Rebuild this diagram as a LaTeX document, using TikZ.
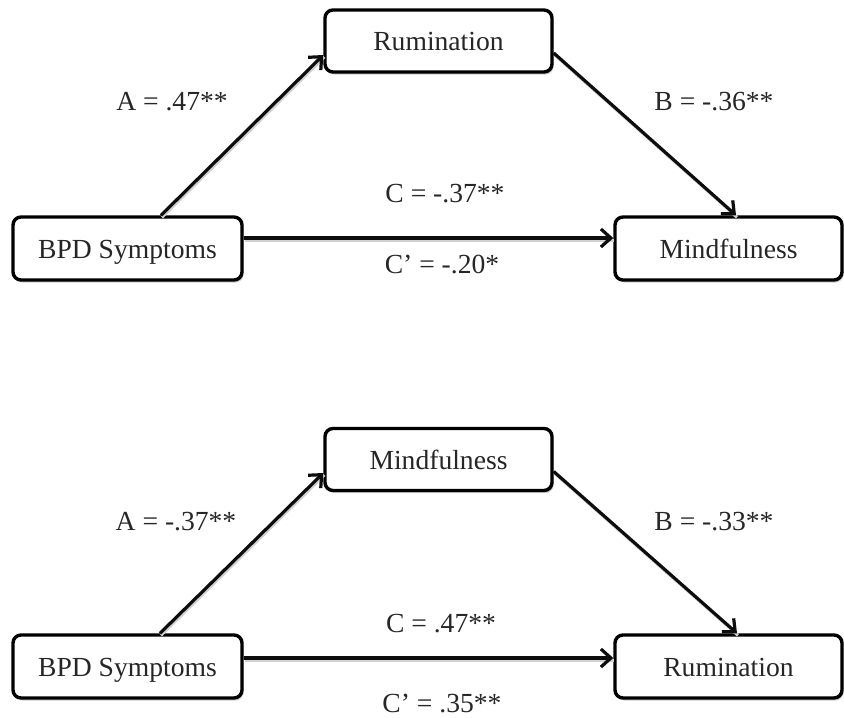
\documentclass[tikz,border=0pt]{standalone}
\usepackage{fontspec}
\setmainfont{Liberation Serif}
\usetikzlibrary{arrows.meta,shadows}
\begin{document}
\begin{tikzpicture}[x=1pt,y=-1pt,
  font=\fontsize{27.6}{32}\selectfont,
  varbox/.style={draw=black, line width=3.4pt, rounded corners=8pt, fill=white,
    minimum width=227pt, minimum height=62pt, inner sep=0pt, text=black!85,
    text height=19pt, text depth=0pt,
    drop shadow={shadow xshift=1.5pt, shadow yshift=-2.5pt, fill=black!20, opacity=1}},
  path/.style={line width=3.2pt, draw=black!95,
    -{Straight Barb[length=10pt,width=18pt,line width=3.2pt]},
    preaction={draw=black!18, line width=3pt, -, transform canvas={shift={(1pt,-2pt)}}}},
  coef/.style={anchor=base, inner sep=0pt, text=black!85}]
\useasboundingbox (0,0) rectangle (844,718);
% ---------- top model ----------
\node[varbox] (R1) at (438.5,41) {Rumination};
\node[varbox, minimum width=229pt, minimum height=63pt] (B1) at (127.5,248.5) {BPD Symptoms};
\node[varbox, minimum height=63pt] (M1) at (728.5,248.5) {Mindfulness};
\draw[path] ([xshift=33.5pt]B1.north) -- ([yshift=-14pt]R1.west);
\draw[path] ([yshift=-12pt]R1.east) -- ([xshift=7.5pt]M1.north);
\draw[path] ([yshift=10.5pt]B1.east) -- ([yshift=10.5pt]M1.west);
\node[coef] (a1) at (172,110) {A = .47**};
\node[coef] (b1) at (714,110) {B = -.36**};
\node[coef] (c1) at (445,202) {C = -.37**};
\node[coef] (d1) at (442,273) {C’ = -.20*};
% ---------- bottom model ----------
\node[varbox] (M2) at (438.5,459.5) {Mindfulness};
\node[varbox, minimum width=229pt, minimum height=63pt] (B2) at (127.5,666.5) {BPD Symptoms};
\node[varbox, minimum height=63pt] (R2) at (728.5,666.5) {Rumination};
\draw[path] ([xshift=32.5pt]B2.north) -- ([yshift=-13.5pt]M2.west);
\draw[path] ([yshift=-12pt]M2.east) -- ([xshift=8.5pt]R2.north);
\draw[path] ([yshift=8.5pt]B2.east) -- ([yshift=8.5pt]R2.west);
\node[coef] (a2) at (176,530) {A = -.37**};
\node[coef] (b2) at (714,530) {B = -.33**};
\node[coef] (c2) at (441,632) {C = .47**};
\node[coef] (d2) at (442,712) {C’ = .35**};
\end{tikzpicture}
\end{document}
